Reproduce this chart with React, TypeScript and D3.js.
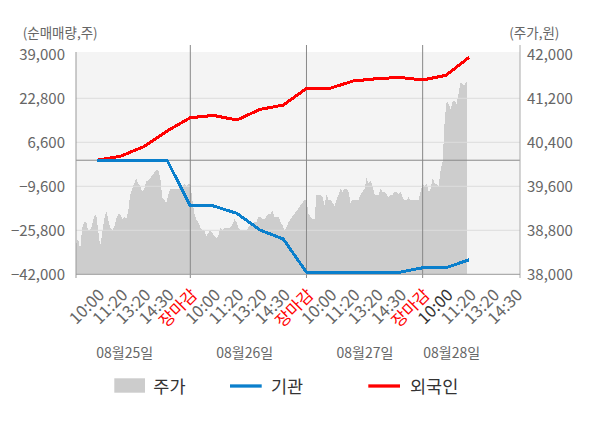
import React from "react";
import * as d3 from "d3";

// ---- data ----
const slotLabels = [
  "10:00", "11:20", "13:20", "14:30", "장마감",
  "10:00", "11:20", "13:20", "14:30", "장마감",
  "10:00", "11:20", "13:20", "14:30", "장마감",
  "10:00", "11:20", "13:20", "14:30",
];
const dayLabels = ["08월25일", "08월26일", "08월27일", "08월28일"];
const leftTicks = [39000, 22800, 6600, -9600, -25800, -42000];
const rightTicks = [42000, 41200, 40400, 39600, 38800, 38000];

// cumulative net buying (shares), one value per time slot (slot 1..17)
const foreignNet = [0, 1500, 5000, 10750, 15650, 16500, 14800, 18700, 20300, 26450, 26450, 29150, 30000, 30500, 29550, 31250, 37900];
const institutionNet = [0, 0, 0, 0, -16850, -16850, -19550, -25700, -29000, -41250, -41250, -41250, -41250, -41250, -39600, -39600, -36650];

// intraday price (won)
const price0825 = [
  38550, 38650, 38450, 38850, 38950, 38950, 38800, 38800, 38900, 39050,
  39100, 38800, 38500, 38750, 39000, 39150, 39000, 38850, 38800, 38850,
  39000, 39100, 39100, 39000, 39050, 39000, 39150, 39450, 39550, 39650,
  39750, 39650, 39600, 39500, 39550, 39700, 39700, 39750, 39800, 39850,
  39900, 39900, 39750, 39400, 39350, 39300, 39450, 39550, 39550, 39550,
  39550, 39550, 39600, 39600, 39650, 39600, 39650, 39650,
];
const price0826 = [
  39350, 39100, 39000, 38950, 38850, 38800, 38800, 38700, 38750, 38800,
  38750, 38700, 38650, 38700, 38850, 38800, 38850, 38850, 38850, 38850,
  38900, 39000, 38950, 38850, 38800, 38800, 38800, 38800, 38850, 38900,
  38900, 38950, 38950, 39050, 39050, 39000, 39000, 39050, 39100, 39100,
  39150, 39050, 39050, 39050, 38950, 38900, 38800, 38850, 38950, 39000,
  39050, 39100, 39150, 39200, 39250, 39300, 39350, 39350,
];
const price0827 = [
  39100, 39050, 39000, 39000, 39450, 39450, 39450, 39400, 39250, 39450,
  39350, 39350, 39300, 39250, 39350, 39450, 39550, 39500, 39550, 39550,
  39500, 39300, 39350, 39350, 39350, 39350, 39450, 39500, 39550, 39750,
  39650, 39700, 39600, 39450, 39450, 39450, 39550, 39500, 39500, 39450,
  39400, 39450, 39450, 39500, 39500, 39450, 39500, 39400, 39350, 39350,
  39400, 39350, 39350, 39350, 39350, 39350, 39500, 39650,
];
const price0828 = [
  39600, 39650, 39500, 39550, 39750, 39650, 39650, 39600, 39900, 40050,
  40800, 41150, 41100, 41000, 41150, 41150, 41100, 41300, 41500, 41450,
  41450, 41500,
];

const FONT = "'Noto Sans CJK KR', 'Noto Sans', sans-serif";

export default function App() {
  const left = 76, right = 520, top = 52, bottom = 274.3;
  const x = d3.scaleLinear().domain([0.08, 19.19]).range([left, right]);
  const yL = d3.scaleLinear().domain([-42000, 39000]).range([bottom, 54.3]);
  const yR = d3.scaleLinear().domain([38000, 42000]).range([bottom, 54.3]);

  const pointsPerDay = 58;
  const pricePts = [price0825, price0826, price0827, price0828].flatMap((arr, d) =>
    arr.map((v, j) => ({ s: 5 * d + ((j + 1) * 5) / pointsPerDay, v }))
  );
  const area = d3
    .area<{ s: number; v: number }>()
    .x((p) => x(p.s))
    .y0(yR(38000))
    .y1((p) => yR(p.v));
  const line = d3
    .line<number>()
    .x((_, i) => x(i + 1))
    .y((v) => yL(v));

  const separators = [5, 10, 15];
  const dayCenters = [124.7, 244.7, 365, 451.7];

  return (
    <svg
      width={600}
      height={428}
      style={{ position: "absolute", left: 0, top: 0, background: "#fff" }}
      fontFamily={FONT}
    >
      <rect x={left} y={top} width={right - left} height={bottom - top} fill="#f4f4f4" />
      <path d={area(pricePts) || ""} fill="#cdcdcd" shapeRendering="crispEdges" />
      {leftTicks.slice(1, -1).map((t) => (
        <line key={t} x1={left} x2={right} y1={yL(t)} y2={yL(t)} stroke="#dcdcdc" strokeWidth={1} />
      ))}
      <line x1={left} x2={right} y1={yL(0)} y2={yL(0)} stroke="#888" strokeWidth={1} />
      {separators.map((s) => (
        <line key={s} x1={x(s)} x2={x(s)} y1={45} y2={278} stroke="#888" strokeWidth={1} />
      ))}
      <line x1={right} x2={right} y1={45} y2={278} stroke="#aaa" strokeWidth={1} />
      <line x1={left} x2={left} y1={top} y2={278} stroke="#999" strokeWidth={1} />
      <line x1={left} x2={right} y1={bottom} y2={bottom} stroke="#999" strokeWidth={1} />

      <path d={line(foreignNet) || ""} fill="none" stroke="#ff0000" strokeWidth={3} shapeRendering="crispEdges" />
      <path d={line(institutionNet) || ""} fill="none" stroke="#0a7fcc" strokeWidth={3} shapeRendering="crispEdges" />

      {leftTicks.map((t) => (
        <text key={t} x={65} y={yL(t)} dy="0.35em" textAnchor="end" fontSize={15} fill="#666">
          {d3.format(",")(t)}
        </text>
      ))}
      {rightTicks.map((t) => (
        <text key={t} x={527} y={yR(t)} dy="0.35em" textAnchor="start" fontSize={15} fill="#666">
          {d3.format(",")(t)}
        </text>
      ))}
      <text x={22.7} y={33.3} dy="0.35em" fontSize={13.5} fill="#666">(순매매량,주)</text>
      <text x={509.3} y={33.3} dy="0.35em" fontSize={13.5} fill="#666">(주가,원)</text>

      {slotLabels.map((lab, i) => (
        <text
          key={i}
          transform={`translate(${x(i + 1) + 8},${296}) rotate(-45)`}
          textAnchor="end"
          fontSize={16.5}
          fill={lab === "장마감" ? "#ff0000" : i === 15 ? "#333" : "#666"}
        >
          {lab}
        </text>
      ))}
      {dayLabels.map((d, i) => (
        <text key={d} x={dayCenters[i]} y={353.3} dy="0.35em" textAnchor="middle" fontSize={14} fill="#666">
          {d}
        </text>
      ))}

      <rect x={114.3} y={378.3} width={30.7} height={14.4} fill="#cccccc" />
      <text x={153.3} y={386.5} dy="0.35em" fontSize={17.5} fill="#333">주가</text>
      <line x1={230} x2={261.7} y1={386} y2={386} stroke="#0a7fcc" strokeWidth={3.3} />
      <text x={271} y={386.5} dy="0.35em" fontSize={17.5} fill="#333">기관</text>
      <line x1={368.3} x2={400} y1={386} y2={386} stroke="#ff0000" strokeWidth={3.3} />
      <text x={410} y={386.5} dy="0.35em" fontSize={17.5} fill="#333">외국인</text>
    </svg>
  );
}
